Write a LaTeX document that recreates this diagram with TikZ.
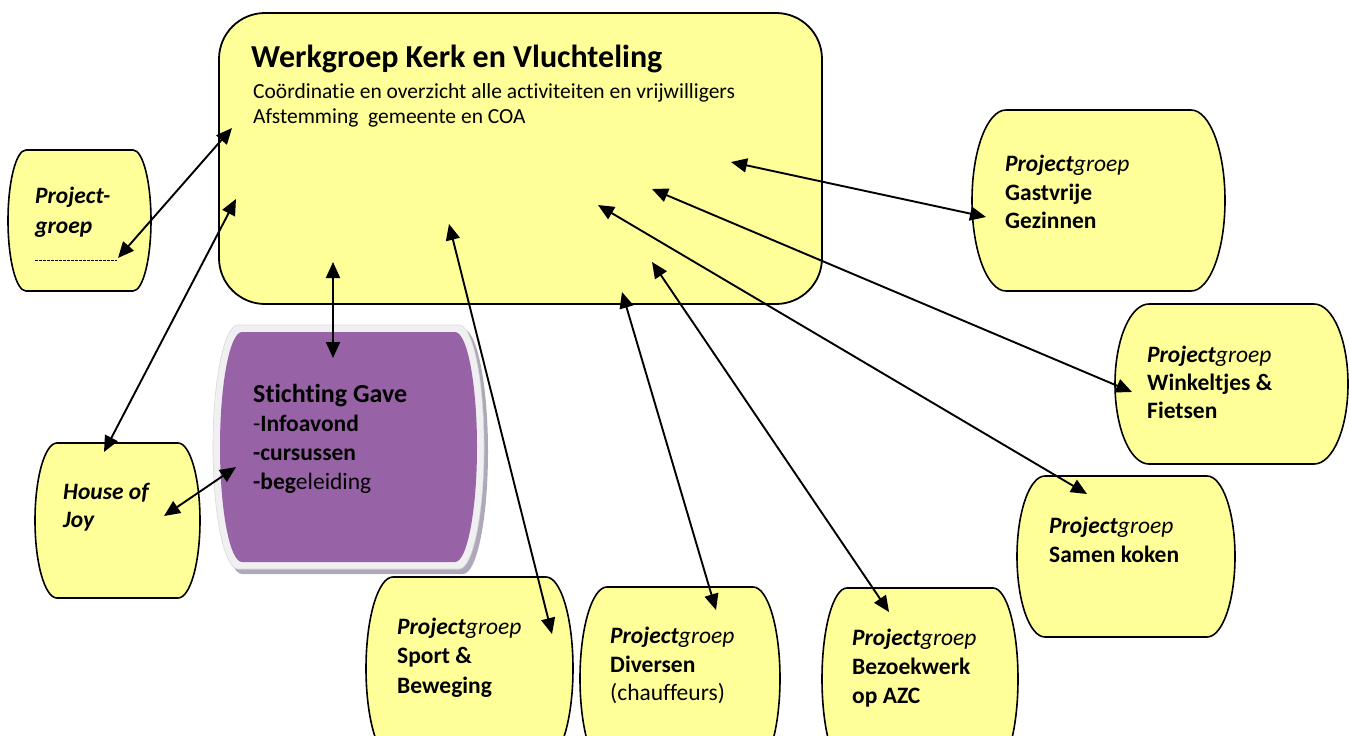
\documentclass[tikz,border=0pt]{standalone}
\usepackage{fontspec}
\setmainfont{Carlito}[Ligatures=NoCommon]
\usetikzlibrary{arrows.meta}
\definecolor{boxyellow}{RGB}{255,255,153}
\definecolor{gavepurple}{RGB}{152,99,166}
\definecolor{gaverim}{RGB}{240,240,242}
\definecolor{gaveshadow}{RGB}{175,168,185}
\tikzset{
  yellowbox/.style={fill=boxyellow, draw=black, line width=1.6pt},
  link/.style={{Triangle[length=16pt,width=14pt]}-{Triangle[length=16pt,width=14pt]}, line width=1.9pt},
  lbl/.style={anchor=base west, inner sep=0pt, font=\fontsize{23.5}{28}\selectfont},
  gavetitle/.style={anchor=base west, inner sep=0pt, font=\fontsize{26}{30}\selectfont\bfseries},
  titlelbl/.style={anchor=base west, inner sep=0pt, font=\fontsize{32}{36}\selectfont\bfseries},
  sublbl/.style={anchor=base west, inner sep=0pt, font=\fontsize{21.5}{25}\selectfont},
}
% barrel shaped box: x0, ytop, x1, ybottom, side radius, style
\newcommand\barrel[6]{%
  \path[#6] ({#1+#5},{-#2}) -- ({#3-#5},{-#2})
    arc[start angle=90,end angle=-90,x radius=#5,y radius={(#4-#2)/2}]
    -- ({#1+#5},{-#4})
    arc[start angle=270,end angle=90,x radius=#5,y radius={(#4-#2)/2}] -- cycle;}
\begin{document}
\begin{tikzpicture}[x=1pt,y=1pt]
\useasboundingbox (0,0) rectangle (1349,-736);
\clip (0,0) rectangle (1349,-736);

% main box
\draw[fill=boxyellow, line width=1.8pt, rounded corners=46pt] (219,-13) rectangle (822,-304);
\node[titlelbl] (title) at (251,-67) {Werkgroep Kerk en Vluchteling};
\node[sublbl] (sub1) at (253,-98) {Coördinatie en overzicht alle activiteiten en vrijwilligers};
\node[sublbl] (sub2) at (253,-123) {Afstemming\ \ gemeente en COA};

% left project group
\barrel{8}{150}{151}{291}{18}{yellowbox}
\node[lbl] (pg1) at (35,-203) {\bfseries\itshape Project-};
\node[lbl] (pg2) at (35,-233) {\bfseries\itshape groep};
\draw[line width=0.6pt, dash pattern=on 2.5pt off 1.5pt] (35,-260) -- (117,-260);

% house of joy
\barrel{35}{443}{200}{598}{22}{yellowbox}
\node[lbl] (hj1) at (63,-499) {\bfseries\itshape House of};
\node[lbl] (hj2) at (63,-527) {\bfseries\itshape Joy};

% stichting gave
\barrel{217}{329}{488}{574}{25}{fill=gaveshadow}
\barrel{213}{325}{484}{569}{25}{fill=gaverim, draw=gray!30, line width=0.6pt}
\barrel{220}{332}{477}{562}{22}{fill=gavepurple}
\node[gavetitle] (sg1) at (253,-402) {Stichting Gave};
\node[lbl] (sg2) at (253,-431) {-\textbf{Infoavond}};
\node[lbl] (sg3) at (253,-460) {\bfseries -cursussen};
\node[lbl] (sg4) at (253,-489) {\textbf{-beg}eleiding};

% gastvrije gezinnen
\barrel{972}{110}{1225}{291}{34}{yellowbox}
\node[lbl] (gg1) at (1005,-171) {\textbf{\itshape Project}\textit{groep}};
\node[lbl] (gg2) at (1005,-200) {\bfseries Gastvrije};
\node[lbl] (gg3) at (1005,-228) {\bfseries Gezinnen};

% winkeltjes
\barrel{1115}{304}{1348}{464}{34}{yellowbox}
\node[lbl] (wf1) at (1147,-362) {\textbf{\itshape Project}\textit{groep}};
\node[lbl] (wf2) at (1147,-390) {\bfseries Winkeltjes \&};
\node[lbl] (wf3) at (1147,-418) {\bfseries Fietsen};

% samen koken
\barrel{1017}{476}{1235}{637}{28}{yellowbox}
\node[lbl] (sk1) at (1049,-533) {\textbf{\itshape Project}\textit{groep}};
\node[lbl] (sk2) at (1049,-562) {\bfseries Samen koken};

% sport
\barrel{366}{577}{573}{760}{27}{yellowbox}
\node[lbl] (sp1) at (397,-634) {\textbf{\itshape Project}\textit{groep}};
\node[lbl] (sp2) at (397,-663) {\bfseries Sport \&};
\node[lbl] (sp3) at (397,-693) {\bfseries Beweging};

% diversen
\barrel{580}{587}{780}{770}{27}{yellowbox}
\node[lbl] (dv1) at (610,-643) {\textbf{\itshape Project}\textit{groep}};
\node[lbl] (dv2) at (610,-672) {\bfseries Diversen};
\node[lbl] (dv3) at (610,-700) {(chauffeurs)};

% bezoekwerk
\barrel{822}{588}{1018}{770}{25}{yellowbox}
\node[lbl] (bz1) at (852,-645) {\textbf{\itshape Project}\textit{groep}};
\node[lbl] (bz2) at (852,-674) {\bfseries Bezoekwerk};
\node[lbl] (bz3) at (852,-703) {\bfseries op AZC};

% connector end points
\coordinate (m1) at (232,-128);  \coordinate (pgE) at (118,-258);
\coordinate (m2) at (236,-199);  \coordinate (hjE) at (104,-452);
\coordinate (m3) at (333,-262);  \coordinate (sgE) at (333,-358);
\coordinate (hjS) at (164,-516); \coordinate (sgW) at (236,-467);
\coordinate (m5) at (449,-224);  \coordinate (spE) at (552,-634);
\coordinate (m6) at (622,-292);  \coordinate (dvE) at (716,-610);
\coordinate (m7) at (652,-262);  \coordinate (bzE) at (889,-612);
\coordinate (m8) at (598,-205);  \coordinate (skE) at (1087,-494);
\coordinate (m9) at (652,-189);  \coordinate (wfE) at (1132,-392);
\coordinate (m10) at (731,-162); \coordinate (ggE) at (986,-217);

\draw[link] (pgE) -- (m1);
\draw[link] (hjE) -- (m2);
\draw[link] (m3) -- (sgE);
\draw[link] (hjS) -- (sgW);
\draw[link] (m5) -- (spE);
\draw[link] (m6) -- (dvE);
\draw[link] (m7) -- (bzE);
\draw[link] (m8) -- (skE);
\draw[link] (m9) -- (wfE);
\draw[link] (m10) -- (ggE);
\end{tikzpicture}
\end{document}
